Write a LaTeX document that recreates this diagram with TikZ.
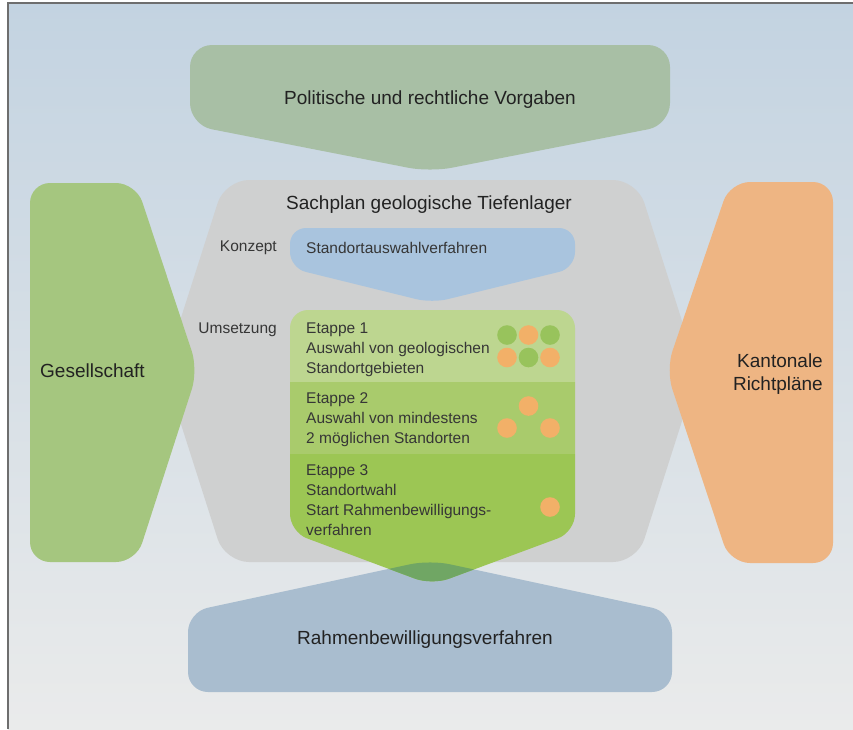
\documentclass[tikz,border=0pt]{standalone}
\usepackage{fontspec}
\setmainfont{Liberation Sans}
\definecolor{bgtop}{HTML}{C3D3E1}
\definecolor{bgmid}{HTML}{D5DEE6}
\definecolor{bgbot}{HTML}{EAEBEB}
\definecolor{topgreen}{HTML}{A8BFA5}
\definecolor{sachgray}{HTML}{CFD0D0}
\definecolor{gesgreen}{HTML}{A5C67F}
\definecolor{kanorange}{HTML}{EEB583}
\definecolor{konblue}{HTML}{A9C4DE}
\definecolor{stageone}{HTML}{BDD690}
\definecolor{stagetwo}{HTML}{A9CB6C}
\definecolor{stagethree}{HTML}{9CC654}
\definecolor{overlapgreen}{HTML}{70A664}
\definecolor{rahmblue}{HTML}{A9BDCF}
\definecolor{dotgreen}{HTML}{98C35C}
\definecolor{dotorange}{HTML}{F2B068}
\definecolor{titletext}{HTML}{222222}
\definecolor{smalltext}{HTML}{363636}
\definecolor{framecol}{HTML}{6E6E6E}
\begin{document}
\begin{tikzpicture}[x=1pt,y=-1pt,
  titlefont/.style={font=\fontsize{19}{23}\selectfont, text=titletext, inner sep=0pt},
  smallfont/.style={font=\fontsize{15.5}{20}\selectfont, text=smalltext, inner sep=0pt},
  stagetext/.style={smallfont, anchor=north west, align=left},
  gdot/.style={fill=dotgreen},
  odot/.style={fill=dotorange}]
\useasboundingbox (0,0) rectangle (853,729);
\fill[white] (0,0) rectangle (853,729);
\shade[top color=bgtop, middle color=bgmid, bottom color=bgbot] (8,3) rectangle (853,729);
\draw[framecol, line width=1.3pt] (8,729) -- (8,3) -- (853,3);

% top shape
\fill[topgreen, rounded corners=22pt] (190,45) -- (670,45) -- (670,125) -- (430,172) -- (190,125) -- cycle;
% central gray shape
\fill[sachgray, rounded corners=24pt] (225,180) -- (637,180) -- (698,371) -- (637,562) -- (225,562) -- (164,371) -- cycle;
% Gesellschaft
\fill[gesgreen, rounded corners=20pt] (30,183) -- (136,183) -- (198,370) -- (136,562) -- (30,562) -- cycle;
% Kantonale Richtplaene
\fill[kanorange, rounded corners=20pt] (833,182) -- (833,563) -- (730,563) -- (666,370) -- (730,182) -- cycle;
% Konzept blue
\fill[konblue, rounded corners=16pt] (290,228) -- (575,228) -- (575,268) -- (432,303) -- (290,268) -- cycle;
% bottom blue
\fill[rahmblue, rounded corners=20pt] (188,612) -- (430,560) -- (672,612) -- (672,692) -- (188,692) -- cycle;
% stages
\begin{scope}
  \clip[rounded corners=18pt] (290,310) -- (575,310) -- (575,532) -- (432,585) -- (290,532) -- cycle;
  \fill[stageone] (280,300) rectangle (590,382);
  \fill[stagetwo] (280,382) rectangle (590,454);
  \fill[stagethree] (280,454) rectangle (590,600);
  \clip[rounded corners=20pt] (188,612) -- (430,560) -- (672,612) -- (672,692) -- (188,692) -- cycle;
  \fill[overlapgreen] (280,540) rectangle (590,600);
\end{scope}

% dots
\fill[gdot] (507,335) circle (9.8);
\fill[odot] (528.5,335) circle (9.8);
\fill[gdot] (550,335) circle (9.8);
\fill[odot] (507,357.5) circle (9.8);
\fill[gdot] (528.5,357.5) circle (9.8);
\fill[odot] (550,357.5) circle (9.8);
\fill[odot] (528.5,406) circle (9.8);
\fill[odot] (507,428) circle (9.8);
\fill[odot] (550,428) circle (9.8);
\fill[odot] (550,507) circle (9.8);

% texts
\node[titlefont, anchor=base] (vorgaben) at (430,104) {Politische und rechtliche Vorgaben};
\node[titlefont, anchor=base] (sachplan) at (429,209) {Sachplan geologische Tiefenlager};
\node[titlefont, anchor=base west] (gesellschaft) at (40,377) {Gesellschaft};
\node[titlefont, anchor=north east, align=right] (kantonale) at (823,353.5) {Kantonale\\Richtpläne};
\node[titlefont, anchor=base] (rahmen) at (425,644) {Rahmenbewilligungsverfahren};
\node[smallfont, anchor=base east] (konzept) at (277,251.5) {Konzept};
\node[smallfont, anchor=base east] (umsetzung) at (277,333.5) {Umsetzung};
\node[smallfont, anchor=base west] (standort) at (306,253) {Standortauswahlverfahren};
\node[stagetext] (etappe1) at (306,322.5) {Etappe 1\\Auswahl von geologischen\\Standortgebieten};
\node[stagetext] (etappe2) at (306,392.3) {Etappe 2\\Auswahl von mindestens\\2 möglichen Standorten};
\node[stagetext] (etappe3) at (306,464.8) {Etappe 3\\Standortwahl\\Start Rahmenbewilligungs-\\verfahren};
\end{tikzpicture}
\end{document}
